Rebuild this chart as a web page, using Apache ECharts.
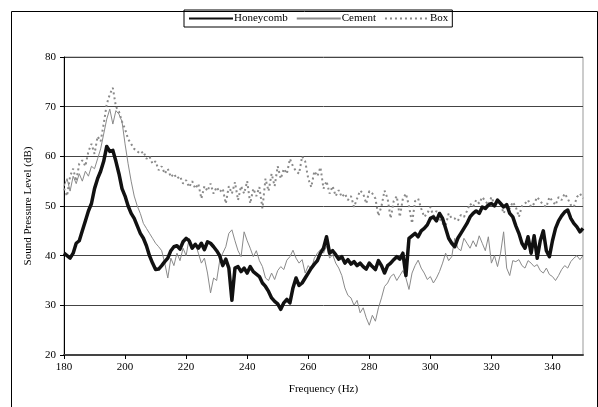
<!DOCTYPE html>
<html>
<head>
<meta charset="utf-8">
<script src="https://cdn.jsdelivr.net/npm/echarts@6/dist/echarts.min.js"></script>
<style>
html,body{margin:0;padding:0;background:#fff;}
#chart{width:598px;height:407px;}
</style>
</head>
<body>
<div id="chart"></div>
<script>
// Frequency (Hz), 1 Hz steps
var freq = [
180,181,182,183,184,185,186,187,188,189,
190,191,192,193,194,195,196,197,198,199,
200,201,202,203,204,205,206,207,208,209,
210,211,212,213,214,215,216,217,218,219,
220,221,222,223,224,225,226,227,228,229,
230,231,232,233,234,235,236,237,238,239,
240,241,242,243,244,245,246,247,248,249,
250,251,252,253,254,255,256,257,258,259,
260,261,262,263,264,265,266,267,268,269,
270,271,272,273,274,275,276,277,278,279,
280,281,282,283,284,285,286,287,288,289,
290,291,292,293,294,295,296,297,298,299,
300,301,302,303,304,305,306,307,308,309,
310,311,312,313,314,315,316,317,318,319,
320,321,322,323,324,325,326,327,328,329,
330,331,332,333,334,335,336,337,338,339,
340,341,342,343,344,345,346,347,348,349,
350];

var honeycomb = [
40.5,40,39.5,40.5,42.5,43,45,47,49,50.5,
53.5,55.5,57,59,62,61,61.2,59,56.5,53.5,
52,50,48.5,47.5,46,44.5,43.5,42,40,38.5,
37.2,37.3,38,38.8,39.5,41,41.8,42,41.3,42.8,
43.5,43,41.5,42.3,41.5,42.5,41.2,42.8,42.5,41.8,
41,40,38,39.3,37.5,31,37.5,37.8,36.8,37.5,
36.5,37.8,36.8,36.3,35.8,34.5,33.8,32.8,31.5,30.8,
30.3,29.2,30.5,31.2,30.5,33.5,35.5,34,34.5,35.5,
36.5,37.5,38.3,39,40.5,41.5,43.8,40.5,41,40.2,
39.3,39.8,38.5,39.2,38.3,38.8,38,38.5,37.8,37.3,
38.5,37.8,37.2,39,38,36.5,38,38.5,39.2,39.8,
39.3,40.5,36,43.5,44,44.5,43.8,45,45.5,46.2,
47.5,47.8,47,48.5,47.5,45.5,43.5,42.5,41.8,43.5,
44.5,45.5,46.5,47.8,48.5,49,48.5,49.8,49.5,50.2,
50.5,50,51.2,50.5,49.8,50.3,48.5,47.8,46,44.5,
42.5,41.5,43.8,40.5,44,39.5,43,45,41,39.8,
43,45.5,47,48,48.8,49.2,47.5,46.5,45.8,44.8,
45.5];

var cement = [
54,55.5,53,56,54.5,56.5,55,57,56,58,
57.5,59.5,61.5,64.5,67.5,69.5,66.5,69.2,68.5,67,
62.5,58.5,55,52,50,48.5,46.5,45.5,44.5,43.5,
42.5,41.8,41,38.5,35.5,39.5,38,40.5,39,41.5,
40,43.5,41.5,42.5,40.5,38.5,39.5,36.5,32.5,35.5,
35,39,40.5,41.8,44.5,45.2,43,41,39.8,44.8,
43,41.5,39.8,41,39,37.8,35.5,35,36.5,35.2,
37,37.8,37.2,39.1,39.8,41.1,39.5,38.5,39.2,36.5,
38,37.2,39.5,40.5,41.2,40.5,42,39.5,40.2,38.5,
37.5,36,33.5,32,31.5,30,31,28.5,29.5,27.5,
26,28,26.8,29.5,31.5,33.8,34.5,35.8,36.3,35,
36,37,35.5,33.2,36.5,38,39.1,37.5,36.5,35.2,
35.8,34.5,35.5,36.8,38.5,40.5,39,39.8,43.5,41.5,
41,43.5,42.5,41.5,43,41.8,44,42.5,41,43.8,
38.5,40,37.8,40.5,44.8,37.5,36,39,38.8,39.2,
38,37.5,39,38.5,37.8,38.2,37,36.5,37.5,36.2,
35.8,35,36,37.2,38,37.5,38.8,39.5,40,39.2,
40];

var box = [
53.5,52,56,57.5,55,58.5,59.2,58,61,62.5,
60.5,64,63,66.5,70.5,72.5,73.8,70,69,67,
65.5,63.5,62.5,61.5,61,60.5,61,59.5,60,58.5,
59,57.2,58,56.5,57.5,55.8,56.5,55.5,56,54.5,
55.2,53.8,55,53.5,54.5,51.5,54,53,54.5,52.5,
53.8,52.8,53.5,50.5,54,52.5,54.8,51.2,54,52.5,
55,50.5,53.5,52,53.8,49.5,55.5,53,56.5,54,
58,55.5,57.5,56.5,59.5,58,57,56.5,60,59,
55.5,53.8,57,56,57.8,53.5,55,52.5,54,52,
53.2,51.8,52.5,51.2,52,49.8,51.5,53.1,52.5,50.5,
53,52.5,51.5,48,50,53.1,51.5,47.5,51,52,
47.8,51.5,52.5,50,46.5,51,51.5,49.5,47.8,48.5,
49.8,48,49,47.5,46.5,46,48.5,47.5,47.5,47,
48.2,47.8,49,50.5,49.8,51.2,50.5,51.8,51,50.2,
51.8,50.3,51,50.5,48.5,50,49.5,50.8,49.8,47.8,
50,50.5,51.2,49.8,50.5,51.8,51,50.2,49.8,51.8,
51,50.2,51.8,51.2,52.5,51.5,50.2,49.8,51.8,52.5,
51.5];

var seriesNames = ['Honeycomb', 'Cement', 'Box'];
var xTitle = 'Frequency (Hz)';
var yTitle = 'Sound Pressure Level (dB)';

function pairs(vals) {
  var out = [];
  for (var i = 0; i < freq.length; i++) out.push([freq[i], vals[i]]);
  return out;
}

var FONT = 'Liberation Serif';
var chart = echarts.init(document.getElementById('chart'), null, {renderer: 'canvas'});
chart.setOption({
  animation: false,
  backgroundColor: '#fff',
  graphic: [{
    type: 'rect', left: 9, top: 9, silent: true,
    shape: {x: 0, y: 0, width: 586, height: 420},
    style: {fill: 'none', stroke: '#000', lineWidth: 1}
  }],
  legend: {
    data: seriesNames,
    top: 10, left: 184,
    orient: 'horizontal',
    itemWidth: 44, itemHeight: 10, itemGap: 8,
    padding: [3, 4, 3, 4],
    borderColor: '#000', borderWidth: 1,
    itemStyle: {opacity: 0},
    textStyle: {fontFamily: FONT, fontSize: 11, color: '#000', padding: [0, 0, 0, -4]}
  },
  grid: {
    left: 64, right: 15, top: 57, bottom: 52,
    show: true, borderColor: '#999', borderWidth: 1, backgroundColor: 'transparent'
  },
  xAxis: {
    type: 'value', min: 180, max: 350, interval: 20,
    name: xTitle, nameLocation: 'middle', nameGap: 29,
    nameTextStyle: {fontFamily: FONT, fontSize: 11, color: '#000'},
    axisLine: {show: true, onZero: false, lineStyle: {color: '#444', width: 2}},
    axisTick: {show: true, length: 4, inside: false, lineStyle: {color: '#000'}},
    axisLabel: {fontFamily: FONT, fontSize: 11, color: '#000', margin: 7, showMaxLabel: false,
      formatter: function (v) { return v === 350 ? '' : String(v); }},
    splitLine: {show: false}
  },
  yAxis: {
    type: 'value', min: 20, max: 80, interval: 10,
    name: yTitle, nameLocation: 'middle', nameGap: 27,
    nameTextStyle: {fontFamily: FONT, fontSize: 11, color: '#000'},
    axisLine: {show: true, lineStyle: {color: '#000', width: 1}},
    axisTick: {show: true, length: 4, lineStyle: {color: '#000'}},
    axisLabel: {fontFamily: FONT, fontSize: 11, color: '#000', margin: 8},
    splitLine: {show: true, lineStyle: {color: '#444', width: 1}}
  },
  series: [
    {
      name: seriesNames[0], type: 'line', data: pairs(honeycomb), z: 4,
      symbol: 'none', smooth: false,
      lineStyle: {color: '#111', width: 3.5, join: 'round'},
      itemStyle: {color: '#111'}
    },
    {
      name: seriesNames[1], type: 'line', data: pairs(cement), z: 3,
      symbol: 'none', smooth: false,
      lineStyle: {color: '#8a8a8a', width: 1},
      itemStyle: {color: '#8a8a8a'}
    },
    {
      name: seriesNames[2], type: 'line', data: pairs(box), z: 2,
      symbol: 'none', smooth: false,
      lineStyle: {color: '#8a8a8a', width: 2, type: [2, 3]},
      itemStyle: {color: '#8a8a8a'}
    }
  ]
});
</script>
</body>
</html>
